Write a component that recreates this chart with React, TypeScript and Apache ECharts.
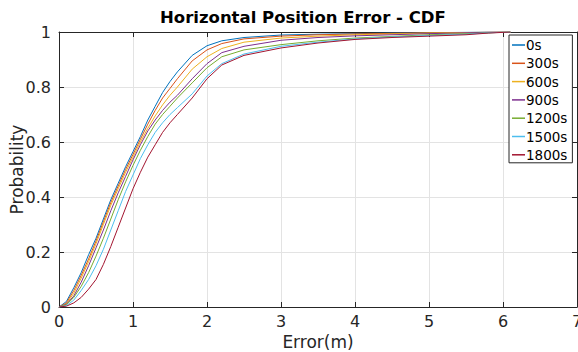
import React, { useEffect, useRef } from "react";
import * as echarts from "echarts";

const titleText = "Horizontal Position Error - CDF";
const xAxisName = "Error(m)";
const yAxisName = "Probability";
const seriesNames = ["0s", "300s", "600s", "900s", "1200s", "1500s", "1800s"];
const seriesColors = ["#0072BD", "#D95319", "#EDB120", "#7E2F8E", "#77AC30", "#4DBEEE", "#A2142F"];

const errorGrid = [0, 0.1, 0.2, 0.3, 0.4, 0.5, 0.6, 0.7, 0.8, 0.9, 1.0, 1.1, 1.2, 1.3, 1.4, 1.5, 1.6, 1.8, 2.0, 2.2, 2.5, 3.0, 3.5, 4.0, 4.5, 5.0, 5.5, 5.8, 6.1];

const cdf0s = [0, 0.02, 0.07, 0.125, 0.19, 0.25, 0.32, 0.39, 0.45, 0.51, 0.565, 0.62, 0.68, 0.73, 0.78, 0.82, 0.855, 0.915, 0.95, 0.968, 0.98, 0.989, 0.992, 0.994, 0.996, 0.997, 0.999, 1, 1];
const cdf300s = [0, 0.015, 0.06, 0.115, 0.175, 0.24, 0.31, 0.38, 0.44, 0.5, 0.555, 0.61, 0.665, 0.715, 0.76, 0.795, 0.83, 0.895, 0.935, 0.958, 0.975, 0.985, 0.99, 0.993, 0.995, 0.997, 0.998, 0.999, 1];
const cdf600s = [0, 0.012, 0.05, 0.105, 0.165, 0.23, 0.3, 0.37, 0.43, 0.49, 0.545, 0.6, 0.65, 0.695, 0.735, 0.77, 0.8, 0.865, 0.91, 0.94, 0.963, 0.978, 0.985, 0.99, 0.993, 0.996, 0.998, 0.999, 1];
const cdf900s = [0, 0.01, 0.04, 0.09, 0.15, 0.215, 0.28, 0.35, 0.415, 0.475, 0.535, 0.59, 0.64, 0.68, 0.715, 0.745, 0.77, 0.83, 0.885, 0.925, 0.948, 0.97, 0.98, 0.986, 0.99, 0.994, 0.997, 0.999, 1];
const cdf1200s = [0, 0.008, 0.035, 0.075, 0.125, 0.185, 0.25, 0.32, 0.39, 0.455, 0.515, 0.57, 0.62, 0.665, 0.7, 0.73, 0.76, 0.815, 0.87, 0.91, 0.935, 0.954, 0.968, 0.978, 0.984, 0.99, 0.994, 0.997, 1];
const cdf1500s = [0, 0.005, 0.025, 0.06, 0.1, 0.15, 0.21, 0.28, 0.35, 0.42, 0.48, 0.54, 0.59, 0.635, 0.67, 0.7, 0.725, 0.775, 0.84, 0.885, 0.92, 0.948, 0.963, 0.975, 0.982, 0.987, 0.992, 0.997, 1];
const cdf1800s = [0, 0.003, 0.015, 0.035, 0.065, 0.1, 0.155, 0.22, 0.29, 0.36, 0.43, 0.49, 0.545, 0.59, 0.635, 0.67, 0.7, 0.76, 0.83, 0.88, 0.915, 0.942, 0.96, 0.973, 0.98, 0.985, 0.99, 0.996, 1];

const seriesValues = [cdf0s, cdf300s, cdf600s, cdf900s, cdf1200s, cdf1500s, cdf1800s];

const FONT = "'DejaVu Sans', 'Liberation Sans', Arial, sans-serif";
const AXIS_COLOR = "#262626";

export default function App() {
  const ref = useRef<HTMLDivElement>(null);

  useEffect(() => {
    if (!ref.current) return;
    const chart = echarts.init(ref.current, undefined, { renderer: "svg" });

    const series = seriesNames.map((name, i) => ({
      name,
      type: "line",
      xAxisIndex: 0,
      yAxisIndex: 0,
      symbol: "none",
      showSymbol: false,
      data: errorGrid.map((x, j) => [x, seriesValues[i][j]]),
      lineStyle: { color: seriesColors[i], width: 1 },
      itemStyle: { color: seriesColors[i] },
      z: 3,
    }));

    const commonX = { type: "value", min: 0, max: 7, interval: 1 };
    const commonY = { type: "value", min: 0, max: 1, interval: 0.2 };

    chart.setOption({
      animation: false,
      backgroundColor: "#ffffff",
      textStyle: { fontFamily: FONT },
      title: {
        text: titleText,
        left: 160,
        top: 9,
        padding: 0,
        textStyle: { fontFamily: FONT, fontSize: 16.5, fontWeight: "bold", color: "#000000" },
      },
      legend: {
        orient: "vertical",
        left: 509,
        top: 35,
        padding: [3, 5, 1, 3],
        itemGap: 4.3,
        itemWidth: 13,
        itemHeight: 1.5,
        icon: "rect",
        backgroundColor: "#ffffff",
        borderColor: AXIS_COLOR,
        borderWidth: 1,
        borderRadius: 0,
        data: seriesNames,
        textStyle: { fontFamily: FONT, fontSize: 13.5, color: "#000000", lineHeight: 14, padding: [0, 0, 0, -4] },
      },
      grid: { left: 59, right: 1, top: 32, bottom: 45, containLabel: false, outerBoundsMode: "none" },
      xAxis: [
        {
          ...commonX,
          position: "bottom",
          name: xAxisName,
          nameLocation: "middle",
          nameGap: 26,
          nameMoveOverlap: false,
          nameTextStyle: { fontFamily: FONT, fontSize: 17, color: AXIS_COLOR },
          axisLine: { show: true, lineStyle: { color: AXIS_COLOR, width: 1 } },
          axisTick: { show: true, inside: true, length: 5, lineStyle: { color: AXIS_COLOR } },
          axisLabel: { show: true, margin: 6, fontFamily: FONT, fontSize: 16, color: AXIS_COLOR },
          splitLine: { show: true, lineStyle: { color: "#e3e3e3", width: 1 } },
        },
        {
          ...commonX,
          position: "top",
          axisLine: { show: true, onZero: false, lineStyle: { color: AXIS_COLOR, width: 1 } },
          axisTick: { show: true, inside: true, length: 5, lineStyle: { color: AXIS_COLOR } },
          axisLabel: { show: false },
          splitLine: { show: false },
        },
      ],
      yAxis: [
        {
          ...commonY,
          position: "left",
          name: yAxisName,
          nameLocation: "middle",
          nameGap: 34,
          nameMoveOverlap: false,
          nameTextStyle: { fontFamily: FONT, fontSize: 17, color: AXIS_COLOR },
          axisLine: { show: true, lineStyle: { color: AXIS_COLOR, width: 1 } },
          axisTick: { show: true, inside: true, length: 5, lineStyle: { color: AXIS_COLOR } },
          axisLabel: { show: true, margin: 8, fontFamily: FONT, fontSize: 16, color: AXIS_COLOR },
          splitLine: { show: true, lineStyle: { color: "#e3e3e3", width: 1 } },
        },
        {
          ...commonY,
          position: "right",
          axisLine: { show: true, onZero: false, lineStyle: { color: AXIS_COLOR, width: 1 } },
          axisTick: { show: true, inside: true, length: 5, lineStyle: { color: AXIS_COLOR } },
          axisLabel: { show: false },
          splitLine: { show: false },
        },
      ],
      series,
    });

    return () => {
      chart.dispose();
    };
  }, []);

  return (
    <div
      ref={ref}
      style={{ position: "fixed", left: 0, top: 0, width: 578, height: 352, background: "#ffffff" }}
    />
  );
}
